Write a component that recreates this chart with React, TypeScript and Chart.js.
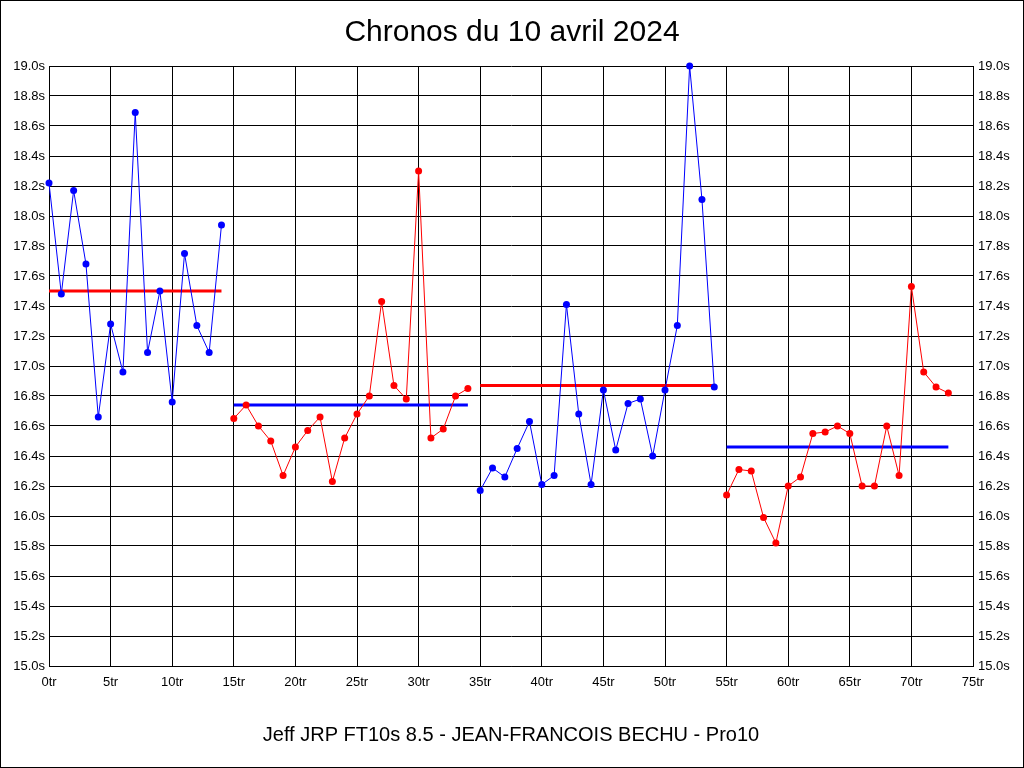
import React, { useEffect, useRef } from "react";
import { Chart, registerables } from "chart.js";

Chart.register(...registerables);

const TITLE = "Chronos du 10 avril 2024";
const X_TITLE = "Jeff JRP FT10s 8.5 - JEAN-FRANCOIS BECHU - Pro10";

// Lap times per session (seconds); each session starts at the given lap
const session1Start = 0;
const session1 = [18.22, 17.48, 18.17, 17.68, 16.66, 17.28, 16.96, 18.69, 17.09, 17.5, 16.76, 17.75, 17.27, 17.09, 17.94];
const session2Start = 15;
const session2 = [16.65, 16.74, 16.6, 16.5, 16.27, 16.46, 16.57, 16.66, 16.23, 16.52, 16.68, 16.8, 17.43, 16.87, 16.78, 18.3, 16.52, 16.58, 16.8, 16.85];
const session3Start = 35;
const session3 = [16.17, 16.32, 16.26, 16.45, 16.63, 16.21, 16.27, 17.41, 16.68, 16.21, 16.84, 16.44, 16.75, 16.78, 16.4, 16.84, 17.27, 19.0, 18.11, 16.86];
const session4Start = 55;
const session4 = [16.14, 16.31, 16.3, 15.99, 15.82, 16.2, 16.26, 16.55, 16.56, 16.6, 16.55, 16.2, 16.2, 16.6, 16.27, 17.53, 16.96, 16.86, 16.82];

// Mean line per session
const sessionMeans = [17.5, 16.74, 16.87, 16.46];

const BLUE = "#0000ff";
const RED = "#ff0000";

const Y_MIN = 15.0;
const Y_MAX = 19.0;
const Y_STEP = 0.2;
const X_MIN = 0;
const X_MAX = 75;
const X_STEP = 5;

function toPoints(start: number, values: number[]) {
  return values.map((v, i) => ({ x: start + i, y: v }));
}

function seriesDataset(start: number, values: number[], color: string) {
  return {
    data: toPoints(start, values),
    borderColor: color,
    backgroundColor: color,
    borderWidth: 1,
    pointRadius: 3.5,
    pointBorderWidth: 0,
    pointBackgroundColor: color,
    tension: 0,
    clip: false as any,
    order: 1,
  };
}

function meanDataset(start: number, count: number, mean: number, color: string) {
  return {
    data: [
      { x: start, y: mean },
      { x: start + count - 1, y: mean },
    ],
    borderColor: color,
    backgroundColor: color,
    borderWidth: 3,
    pointRadius: 0,
    tension: 0,
    clip: false as any,
    order: 2,
  };
}

const frame = {
  id: "frame",
  beforeDraw(chart: any) {
    const ctx = chart.ctx;
    ctx.save();
    ctx.fillStyle = "#ffffff";
    ctx.fillRect(0, 0, chart.width, chart.height);
    ctx.restore();
  },
  afterDraw(chart: any) {
    const ctx = chart.ctx;
    ctx.save();
    ctx.strokeStyle = "#000000";
    ctx.lineWidth = 1;
    ctx.strokeRect(0.5, 0.5, chart.width - 1, chart.height - 1);
    ctx.restore();
  },
};

export default function App() {
  const ref = useRef<HTMLCanvasElement>(null);

  useEffect(() => {
    document.body.style.margin = "0";
    const canvas = ref.current!;
    const tickFont = { family: "Arial, 'Liberation Sans', sans-serif", size: 13 };
    const tickCb = (v: any) => Number(v).toFixed(1) + "s";
    const chart = new Chart(canvas, {
      type: "line",
      data: {
        datasets: [
          seriesDataset(session1Start, session1, BLUE),
          seriesDataset(session2Start, session2, RED),
          seriesDataset(session3Start, session3, BLUE),
          seriesDataset(session4Start, session4, RED),
          meanDataset(session1Start, session1.length, sessionMeans[0], RED),
          meanDataset(session2Start, session2.length, sessionMeans[1], BLUE),
          meanDataset(session3Start, session3.length, sessionMeans[2], RED),
          meanDataset(session4Start, session4.length, sessionMeans[3], BLUE),
        ] as any,
      },
      options: {
        animation: false,
        responsive: false,
        devicePixelRatio: 1,
        layout: { padding: 0 },
        plugins: {
          legend: { display: false },
          tooltip: { enabled: false },
          title: {
            display: true,
            text: TITLE,
            color: "#000",
            font: { family: "Arial, 'Liberation Sans', sans-serif", size: 30, weight: "normal" },
            padding: { top: 15, bottom: 15 },
          },
        },
        scales: {
          x: {
            type: "linear",
            min: X_MIN,
            max: X_MAX,
            grid: { color: "#000", lineWidth: 1, drawTicks: false },
            border: { color: "#000", width: 1 },
            ticks: {
              stepSize: X_STEP,
              color: "#000",
              font: tickFont,
              padding: 9,
              maxRotation: 0,
              autoSkip: false,
              callback: (v: any) => v + "tr",
            },
            title: {
              display: true,
              text: X_TITLE,
              color: "#000",
              font: { family: "Arial, 'Liberation Sans', sans-serif", size: 20 },
              padding: { top: 0, bottom: 21 },
            },
            afterFit: (s: any) => {
              s.height = 102;
            },
          },
          y: {
            type: "linear",
            position: "left",
            min: Y_MIN,
            max: Y_MAX,
            grid: { color: "#000", lineWidth: 1, drawTicks: false },
            border: { color: "#000", width: 1 },
            ticks: {
              stepSize: Y_STEP,
              color: "#000",
              font: tickFont,
              padding: 4,
              autoSkip: false,
              callback: tickCb,
            },
            afterFit: (s: any) => {
              s.width = 49;
            },
          },
          y2: {
            type: "linear",
            position: "right",
            min: Y_MIN,
            max: Y_MAX,
            grid: { display: false, drawTicks: false },
            border: { color: "#000", width: 1 },
            ticks: {
              stepSize: Y_STEP,
              color: "#000",
              font: tickFont,
              padding: 5,
              autoSkip: false,
              callback: tickCb,
            },
            afterFit: (s: any) => {
              s.width = 51;
            },
          },
        },
      } as any,
      plugins: [frame],
    });
    return () => chart.destroy();
  }, []);

  return (
    <div style={{ position: "absolute", left: 0, top: 0, width: 1024, height: 768 }}>
      <canvas ref={ref} width={1024} height={768} />
    </div>
  );
}
